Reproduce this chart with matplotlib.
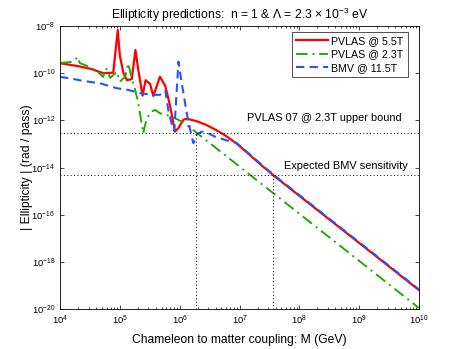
import numpy as np
import matplotlib
matplotlib.use("Agg")
import matplotlib.pyplot as plt
from matplotlib.ticker import FixedLocator, NullLocator

# Data (log10 of coupling M in GeV, log10 of ellipticity)
red_logM = [4.00, 4.30, 4.39, 4.52, 4.72, 4.89, 4.965, 5.00, 5.06, 5.12, 5.20, 5.26, 5.31,
            5.38, 5.43, 5.505, 5.56, 5.67, 5.76, 5.84, 5.89, 5.92, 5.98, 6.06, 6.09, 6.17,
            6.30, 6.45, 6.60, 6.75, 6.95, 7.15, 7.40, 7.60, 8.00, 8.50, 9.00, 9.50, 10.00]
red_logE = [-9.58, -9.70, -9.75, -9.82, -10.00, -9.98, -8.17, -9.25, -10.00, -10.30, -10.25, -9.02, -9.88,
            -10.95, -10.30, -10.45, -10.97, -10.15, -10.55, -11.38, -12.06, -12.48, -12.33, -11.98, -11.95, -11.96,
            -12.05, -12.20, -12.40, -12.62, -12.98, -13.42, -13.98, -14.40, -15.20, -16.20, -17.20, -18.20, -19.20]

green_logM = [4.00, 4.17, 4.25, 4.30, 4.33, 4.50, 4.635, 4.72, 4.77, 4.84, 4.95, 5.00, 5.09,
              5.14, 5.20, 5.25, 5.31, 5.39, 5.45, 5.53, 5.59, 5.67, 5.78, 5.92, 6.06, 6.27,
              7.00, 8.00, 9.00, 10.00]
green_logE = [-9.57, -9.53, -9.44, -9.31, -9.57, -9.74, -9.95, -10.16, -9.78, -10.20, -9.94, -10.36, -10.15,
              -9.58, -10.22, -10.64, -11.28, -12.55, -11.91, -11.63, -11.56, -11.70, -11.77, -11.91, -12.08, -12.50,
              -13.96, -15.96, -17.96, -19.96]

blue_logM = [4.00, 4.17, 4.39, 4.67, 4.95, 5.14, 5.34, 5.56, 5.67, 5.76, 5.81, 5.87, 5.91,
             5.98, 6.035, 6.12, 6.20, 6.23, 6.29, 6.37, 6.48, 6.59, 6.76, 6.95, 7.15, 7.40,
             7.60, 8.00, 8.50, 9.00, 9.50, 10.00]
blue_logE = [-10.16, -10.22, -10.33, -10.43, -10.64, -10.71, -10.85, -10.92, -10.92, -10.73, -11.56, -12.19, -12.45,
             -9.51, -10.43, -11.73, -12.69, -12.97, -12.58, -12.48, -12.55, -12.69, -12.83, -12.96, -13.39, -13.95,
             -14.37, -15.17, -16.17, -17.17, -18.17, -19.17]

pvlas_bound = 3e-13
bmv_sens = 5e-15
pvlas_cross = 1.86e6
bmv_cross = 3.7e7

series_labels = ["PVLAS @ 5.5T", "PVLAS @ 2.3T", "BMV @ 11.5T"]
x_exps = [4, 5, 6, 7, 8, 9, 10]
y_exps = [-20, -18, -16, -14, -12, -10, -8]

plt.rcParams["font.family"] = ["Liberation Sans", "DejaVu Sans"]
plt.rcParams["mathtext.fontset"] = "custom"
plt.rcParams["mathtext.rm"] = "Liberation Sans"
plt.rcParams["mathtext.it"] = "Liberation Sans:italic"
plt.rcParams["mathtext.bf"] = "Liberation Sans:bold"

fig = plt.figure(figsize=(4.63, 3.49), dpi=100)
ax = fig.add_axes([60 / 463, 1 - 309 / 349, 359 / 463, 283 / 349])

ax.plot(10.0 ** np.array(red_logM), 10.0 ** np.array(red_logE), color="#ff0000", lw=1.6,
        label=series_labels[0])
ax.plot(10.0 ** np.array(green_logM), 10.0 ** np.array(green_logE), color="#22aa00", lw=1.4,
        ls=(0, (6, 2.5, 1, 2.5)), label=series_labels[1])
ax.plot(10.0 ** np.array(blue_logM), 10.0 ** np.array(blue_logE), color="#2255ff", lw=1.5,
        ls=(0, (4, 2.5)), label=series_labels[2])

# reference levels
dot = dict(color="black", lw=0.7, ls=(0, (1, 2.5)))
ax.axhline(pvlas_bound, **dot)
ax.axhline(bmv_sens, **dot)
ax.plot([pvlas_cross, pvlas_cross], [1e-20, pvlas_bound], **dot)
ax.plot([bmv_cross, bmv_cross], [1e-20, bmv_sens], **dot)

ax.text(5.2e9, 1.25e-12, "PVLAS 07 @ 2.3T upper bound", ha="right", va="center", fontsize=7.9)
ax.text(6.6e9, 1.2e-14, "Expected BMV sensitivity", ha="right", va="center", fontsize=7.9)

ax.set_xscale("log")
ax.set_yscale("log")
ax.set_xlim(1e4, 1e10)
ax.set_ylim(1e-20, 1e-8)

ax.xaxis.set_major_locator(FixedLocator([10.0 ** e for e in x_exps]))
ax.xaxis.set_minor_locator(FixedLocator([k * 10.0 ** e for e in x_exps[:-1] for k in range(2, 10)]))
ax.set_xticklabels([r"$10^{%d}$" % e for e in x_exps])
ax.yaxis.set_major_locator(FixedLocator([10.0 ** e for e in y_exps]))
ax.yaxis.set_minor_locator(NullLocator())
ax.set_yticklabels([r"$10^{%d}$" % e for e in y_exps])

ax.tick_params(which="both", direction="in", top=True, right=True, labelsize=6.8)
ax.tick_params(which="major", length=3, width=0.5)
ax.tick_params(which="minor", length=1.6, width=0.5)
for s in ax.spines.values():
    s.set_linewidth(0.6)

ax.set_xlabel("Chameleon to matter coupling: M (GeV)", fontsize=8.7, labelpad=5)
ax.set_ylabel("| Ellipticity | (rad / pass)", fontsize=8.7)
ax.yaxis.set_label_coords(-0.075, 0.5)
ax.set_title(r"Ellipticity predictions:  n = 1 & $\Lambda$ = 2.3 $\times$ 10$^{-3}$ eV",
             fontsize=8.7, pad=5)

leg = ax.legend(loc="upper right", bbox_to_anchor=(0.969, 0.979), fontsize=7.7,
                frameon=True, fancybox=False, edgecolor="black", handlelength=3.0,
                borderaxespad=0, borderpad=0.4, labelspacing=0.3, handletextpad=0.3)
leg.get_frame().set_linewidth(0.6)

fig.savefig("out.png", dpi=100)
